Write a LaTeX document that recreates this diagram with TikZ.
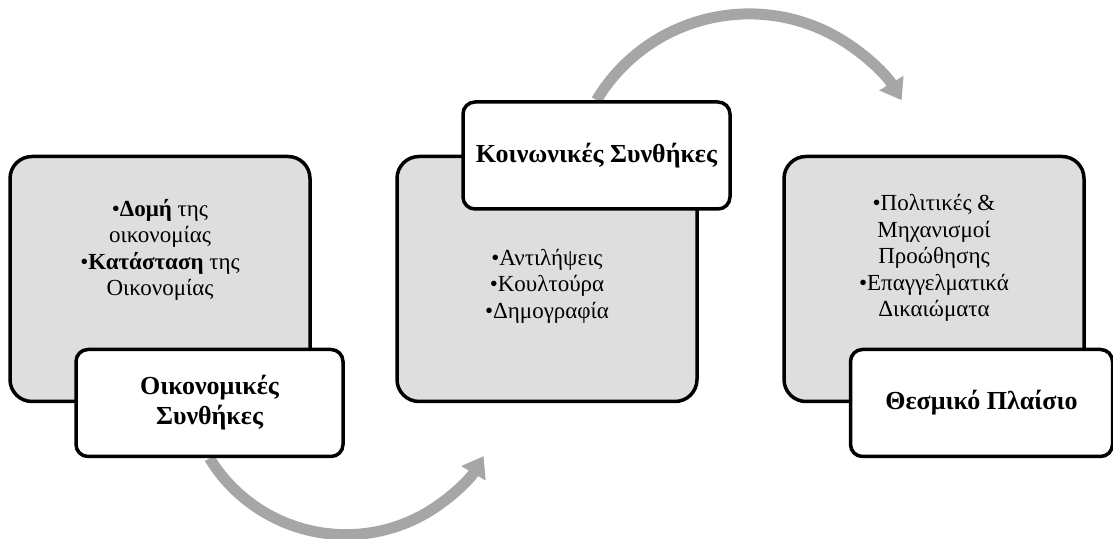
\documentclass[tikz,border=0pt]{standalone}
\usepackage{fontspec}
\setmainfont{Liberation Serif}
\usepackage{tikz}
\usetikzlibrary{arrows.meta, backgrounds}

\begin{document}
\begin{tikzpicture}[x=1pt, y=1pt,
        panel/.style={rectangle, rounded corners=22pt, draw, line width=3.5pt, fill=gray!26, minimum width=300pt, minimum height=245pt},
        title/.style={rectangle, rounded corners=12pt, draw, line width=3.5pt, fill=white, minimum width=267pt, minimum height=107pt, align=center, font=\fontsize{26}{30}\selectfont\bfseries},
        items/.style={align=center, font=\fontsize{23}{26.5}\selectfont},
        flow/.style={line width=11pt, color=gray!70, -{Triangle[width=27pt, length=20pt]}}
    ]
        \useasboundingbox (0,0) rectangle (1113,538);

        % Πλαίσια
        \node [panel] (econbox) at (160,259) {};
        \node [panel] (socbox) at (547,259) {};
        \node [panel] (lawbox) at (934,259) {};

        \node [items] (econtext) at ([yshift=29pt]econbox.center)
            {•\textbf{Δομή} της\\ οικονομίας\\ •\textbf{Κατάσταση} της\\ Οικονομίας};
        \node [items] (soctext) at ([yshift=-7pt]socbox.center)
            {•Αντιλήψεις\\ •Κουλτούρα\\ •Δημογραφία};
        \node [items] (lawtext) at ([yshift=21pt]lawbox.center)
            {•Πολιτικές \&\\ Μηχανισμοί\\ Προώθησης\\ •Επαγγελματικά\\ Δικαιώματα};

        % Τίτλοι
        \node [title] (econ) at (209.5,135) {Οικονομικές\\ Συνθήκες};
        \node [title] (soc) at (596.5,382.5) {Κοινωνικές Συνθήκες};
        \node [title, minimum width=262pt] (law) at (981.5,135) {Θεσμικό Πλαίσιο};

        % Βέλη
        \begin{scope}[on background layer]
            \draw [flow] (econ.south) arc [start angle=211.5, end angle=329.4, radius=160];
            \draw [flow] (soc.north) arc [start angle=149, end angle=31, radius=178];
        \end{scope}
    \end{tikzpicture}
\end{document}
